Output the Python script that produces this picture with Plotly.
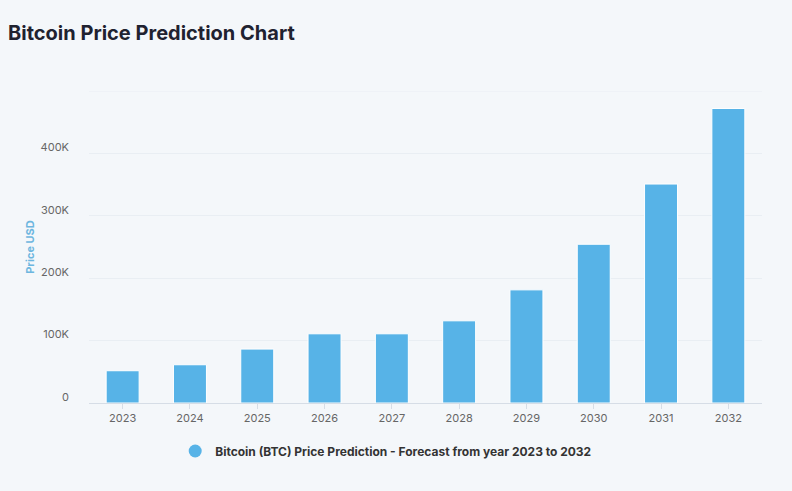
import plotly.graph_objects as go

years = ["2023", "2024", "2025", "2026", "2027", "2028", "2029", "2030", "2031", "2032"]
prices = [51700, 61300, 86400, 110900, 110900, 131700, 181300, 254400, 350900, 472000]
y_tick_vals = [0, 100000, 200000, 300000, 400000]
y_tick_text = ["0", "100K", "200K", "300K", "400K"]
series_name = "Bitcoin (BTC) Price Prediction - Forecast from year 2023 to 2032"

BAR = "#57b3e7"
BG = "#f4f7fa"
FONT = "Inter, Roboto, sans-serif"

fig = go.Figure()
fig.add_trace(go.Bar(
    x=years, y=prices, name=series_name, showlegend=False,
    marker=dict(color=BAR, line=dict(color="#ffffff", width=1)),
))
fig.add_trace(go.Scatter(
    x=[None], y=[None], mode="markers", name=series_name,
    marker=dict(symbol="circle", size=13, color=BAR),
))

fig.update_layout(
    width=792, height=491,
    margin=dict(l=89, r=30, t=91, b=88),
    paper_bgcolor=BG, plot_bgcolor=BG,
    font=dict(family=FONT, color="#666666", size=11),
    bargap=0.51,
    title=dict(
        text="<b>Bitcoin Price Prediction Chart</b>",
        x=8 / 792, xanchor="left", xref="container",
        y=1 - 33 / 491, yanchor="middle", yref="container",
        font=dict(family=FONT, size=20, color="#1f2230"),
    ),
    legend=dict(
        orientation="h", xref="container", yref="container",
        x=0.487, xanchor="center", y=1 - 451 / 491, yanchor="middle",
        font=dict(family=FONT, size=12, color="#333333", weight="bold"),
        bgcolor="rgba(0,0,0,0)",
    ),
    xaxis=dict(
        type="category",
        showgrid=False,
        showline=True, linecolor="#d6dde6", linewidth=1,
        ticks="outside", ticklen=5, tickcolor="#d6dde6",
        tickfont=dict(family=FONT, size=11, color="#666666"),
    ),
    yaxis=dict(
        range=[0, 500000],
        tickvals=y_tick_vals, ticktext=y_tick_text,
        showgrid=True, gridcolor="#e9eef3", gridwidth=1,
        zeroline=False, showline=False,
        ticklabelstandoff=19, ticklabelshift=-6,
        tickfont=dict(family=FONT, size=11, color="#666666"),
        title=dict(text="<b>Price USD</b>", standoff=3,
                   font=dict(family=FONT, size=11, color="#6db6df")),
    ),
)
fig.add_shape(type="line", xref="paper", yref="y", x0=0, x1=1,
              y0=500000, y1=500000, line=dict(color="#e9eef3", width=1), layer="below")

fig.write_html("out.html", config={"displayModeBar": False},
               post_script="document.body.style.margin='0';document.body.style.background='%s';" % BG)
